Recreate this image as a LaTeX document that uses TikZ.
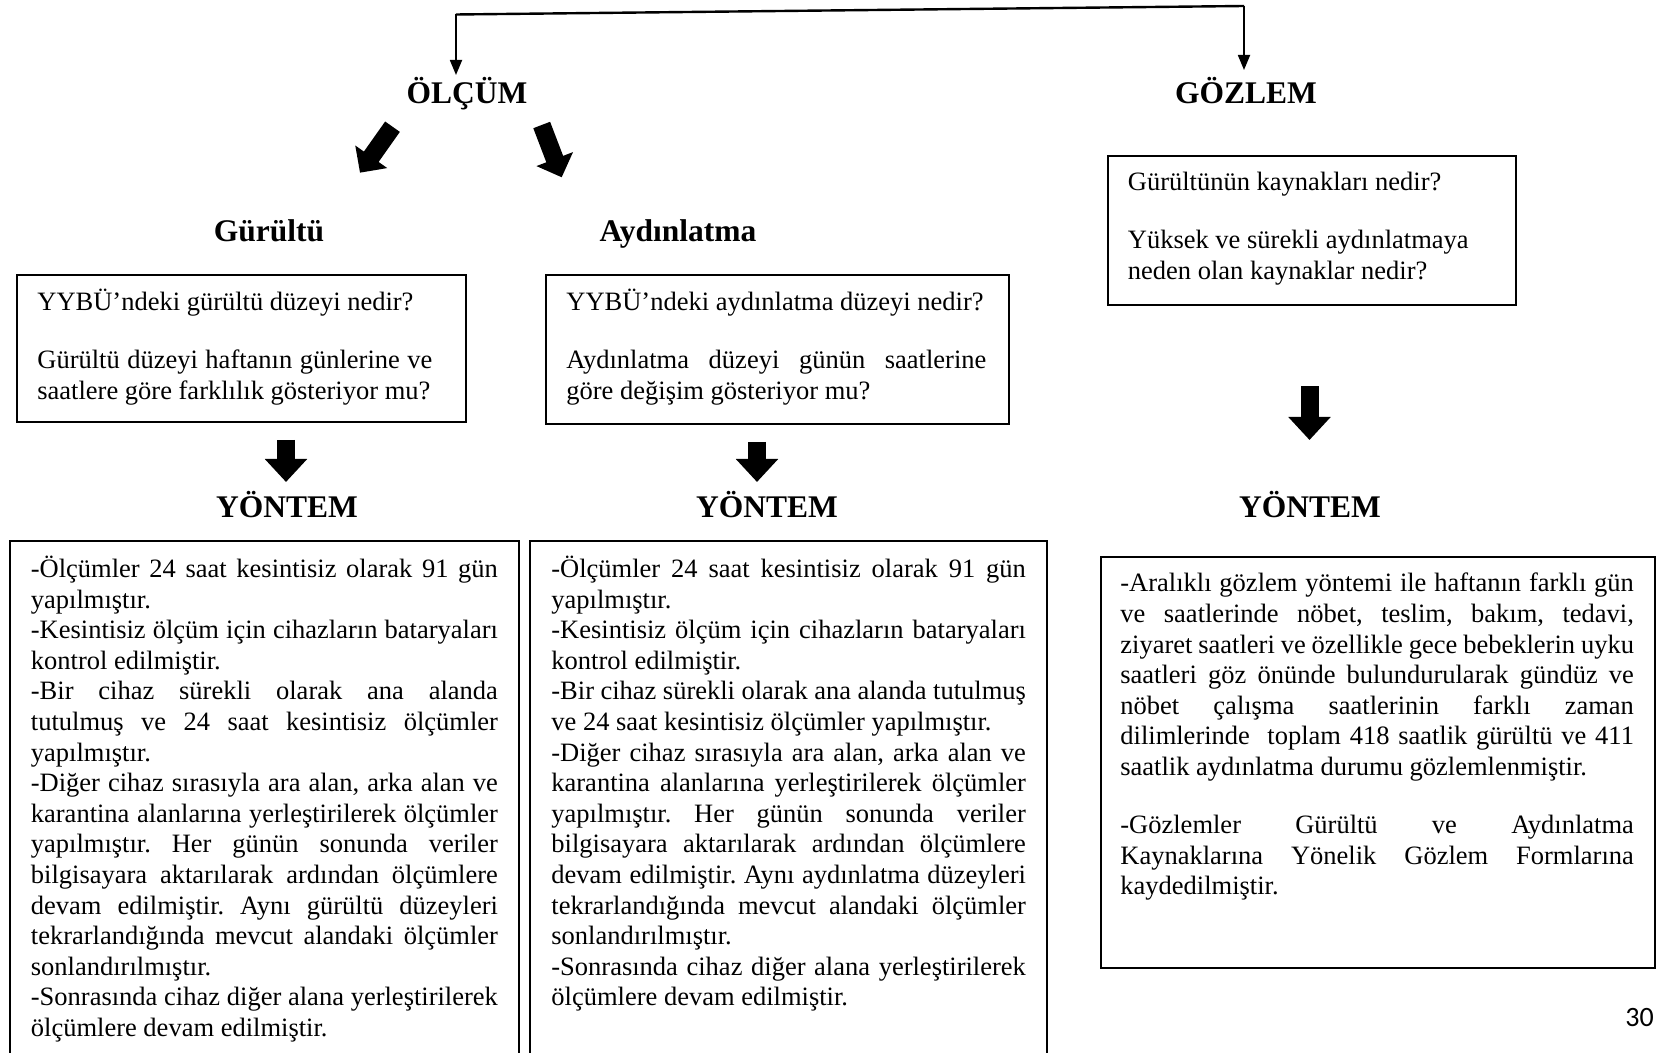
\documentclass[tikz,border=0pt]{standalone}
\usepackage{fontspec}
\setmainfont{Liberation Serif}
\newfontfamily\pagefont{Carlito}
\usetikzlibrary{arrows.meta}
\frenchspacing
\newlength\px \setlength\px{0.5pt}
\newcommand\mystrut{\rule{0pt}{13pt}}
\newcommand\jl[1]{\hbox to \hsize{\mystrut#1}}
\newcommand\rl[1]{\hbox{\mystrut#1}}
\newcommand\pgap{\vskip 13.8pt}
\newcommand\txtblock[2]{\vbox{\hsize=#1\px\lineskiplimit=-100pt\fontsize{13.25}{15.3}\selectfont\frenchspacing#2}}
\tikzset{
  head/.style={font=\bfseries\fontsize{15.75}{18}\selectfont, anchor=base, inner sep=0pt},
  body/.style={anchor=north west, inner sep=0pt},
  frame/.style={draw, line width=1pt, anchor=north west, inner sep=0pt},
  frameline/.style={line width=1pt},
  topline/.style={line width=1.2pt},
  thinarr/.style={line width=0.9pt, -{Triangle[length=7.5pt,width=6pt]}},
  diagarr/.style={line width=9pt, -{Triangle[length=9.75pt,width=19pt]}},
  downarr/.style={line width=9pt, -{Triangle[length=11.5pt,width=20.5pt]}}
}
\begin{document}
\begin{tikzpicture}[x=0.5pt,y=-0.5pt]
\useasboundingbox (0,0) rectangle (1656,1053);

% headings
\node[head] (olcum) at (467,103.5) {ÖLÇÜM};
\node[head] (gozlem) at (1246,103.5) {GÖZLEM};
\node[head] (gurultu) at (269,242) {Gürültü};
\node[head] (aydin) at (678,242) {Aydınlatma};
\node[head] (yon1) at (287,517.5) {YÖNTEM};
\node[head] (yon2) at (767,517.5) {YÖNTEM};
\node[head] (yon3) at (1310,517.5) {YÖNTEM};

% top connector
\coordinate (jL) at (456,14.5);
\coordinate (jR) at (1244,6);
\coordinate (tL) at (456,75);
\coordinate (tR) at (1244,70);
\draw[topline] (jL) -- (jR);
\draw[thinarr] (jL) -- (tL);
\draw[thinarr] (jR) -- (tR);

% block arrows
\coordinate (dA1) at (392.5,126.7); \coordinate (dA2) at (360,172.7);
\coordinate (dB1) at (541.7,125);   \coordinate (dB2) at (561.7,177.3);
\coordinate (vA1) at (286,440);     \coordinate (vA2) at (286,482);
\coordinate (vB1) at (757,442);     \coordinate (vB2) at (757,482);
\coordinate (vC1) at (1309.5,386.5); \coordinate (vC2) at (1309.5,440);
\draw[diagarr] (dA1) -- (dA2);
\draw[diagarr] (dB1) -- (dB2);
\draw[downarr] (vA1) -- (vA2);
\draw[downarr] (vB1) -- (vB2);
\draw[downarr] (vC1) -- (vC2);

% question boxes
\node[frame, minimum width=224.25pt, minimum height=73.75pt] (b1) at (16,274) {};
\node[frame, minimum width=231.5pt, minimum height=74.5pt] (b2) at (545,274) {};
\node[frame, minimum width=203.75pt, minimum height=74.5pt] (b3) at (1107,155) {};

\node[body] (t1) at (37,284) {\txtblock{395}{%
\rl{YYBÜ’ndeki gürültü düzeyi nedir?}\pgap
\jl{Gürültü düzeyi haftanın günlerine ve}
\rl{saatlere göre farklılık gösteriyor mu?}}};

\node[body] (t2) at (566,284) {\txtblock{420}{%
\rl{YYBÜ’ndeki aydınlatma düzeyi nedir?}\pgap
\jl{Aydınlatma düzeyi günün saatlerine}
\rl{göre değişim gösteriyor mu?}}};

\node[body] (t3) at (1127.5,164) {\txtblock{360}{%
\rl{Gürültünün kaynakları nedir?}\pgap
\rl{Yüksek ve sürekli aydınlatmaya}
\rl{neden olan kaynaklar nedir?}}};

% method boxes
\draw[frameline] (10,1060) |- (518.5,541) -- (518.5,1060);
\draw[frameline] (530,1060) |- (1046.5,541) -- (1046.5,1060);
\node[frame, minimum width=277.25pt, minimum height=205.5pt] (b6) at (1099.5,556) {};

\node[body] (t4) at (30.5,551) {\txtblock{467}{%
\jl{-Ölçümler 24 saat kesintisiz olarak 91 gün}
\rl{yapılmıştır.}
\jl{-Kesintisiz ölçüm için cihazların bataryaları}
\rl{kontrol edilmiştir.}
\jl{-Bir cihaz sürekli olarak ana alanda}
\jl{tutulmuş ve 24 saat kesintisiz ölçümler}
\rl{yapılmıştır.}
\jl{-Diğer cihaz sırasıyla ara alan, arka alan ve}
\jl{karantina alanlarına yerleştirilerek ölçümler}
\jl{yapılmıştır. Her günün sonunda veriler}
\jl{bilgisayara aktarılarak ardından ölçümlere}
\jl{devam edilmiştir. Aynı gürültü düzeyleri}
\jl{tekrarlandığında mevcut alandaki ölçümler}
\rl{sonlandırılmıştır.}
\jl{-Sonrasında cihaz diğer alana yerleştirilerek}
\rl{ölçümlere devam edilmiştir.}}};

\node[body] (t5) at (551,551) {\txtblock{474.5}{%
\jl{-Ölçümler 24 saat kesintisiz olarak 91 gün}
\rl{yapılmıştır.}
\jl{-Kesintisiz ölçüm için cihazların bataryaları}
\rl{kontrol edilmiştir.}
\jl{-Bir cihaz sürekli olarak ana alanda tutulmuş}
\rl{ve 24 saat kesintisiz ölçümler yapılmıştır.}
\jl{-Diğer cihaz sırasıyla ara alan, arka alan ve}
\jl{karantina alanlarına yerleştirilerek ölçümler}
\jl{yapılmıştır. Her günün sonunda veriler}
\jl{bilgisayara aktarılarak ardından ölçümlere}
\jl{devam edilmiştir. Aynı aydınlatma düzeyleri}
\jl{tekrarlandığında mevcut alandaki ölçümler}
\rl{sonlandırılmıştır.}
\jl{-Sonrasında cihaz diğer alana yerleştirilerek}
\rl{ölçümlere devam edilmiştir.}}};

\node[body] (t6) at (1120,565.5) {\txtblock{513.5}{%
\jl{-Aralıklı gözlem yöntemi ile haftanın farklı gün}
\jl{ve saatlerinde nöbet, teslim, bakım, tedavi,}
\jl{ziyaret saatleri ve özellikle gece bebeklerin uyku}
\jl{saatleri göz önünde bulundurularak gündüz ve}
\jl{nöbet çalışma saatlerinin farklı zaman}
\jl{dilimlerinde\ \ toplam 418 saatlik gürültü ve 411}
\rl{saatlik aydınlatma durumu gözlemlenmiştir.}\pgap
\jl{-Gözlemler Gürültü ve Aydınlatma}
\jl{Kaynaklarına Yönelik Gözlem Formlarına}
\rl{kaydedilmiştir.}}};

% page number
\node[font=\pagefont\fontsize{14}{16}\selectfont, anchor=base west, inner sep=0pt] (pg) at (1625,1026) {30};
\end{tikzpicture}
\end{document}
